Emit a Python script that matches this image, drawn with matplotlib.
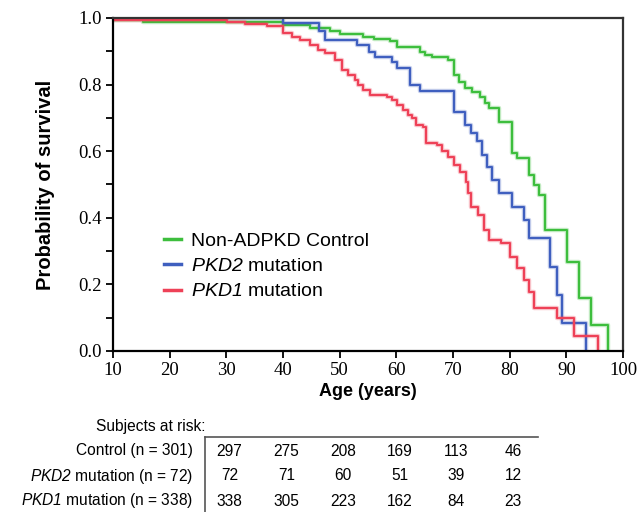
import matplotlib
matplotlib.use('Agg')
from matplotlib import pyplot as plt
from matplotlib.lines import Line2D

plt.rcParams['font.family'] = ['Liberation Sans', 'DejaVu Sans']
plt.rcParams['mathtext.fontset'] = 'custom'
plt.rcParams['mathtext.sf'] = 'Liberation Sans:italic'
plt.rcParams['mathtext.rm'] = 'Liberation Sans'

# Kaplan-Meier steps (age, survival)
control_age = [10, 15.4, 40.0, 44.8, 48.3, 50.1, 54.2, 56.0, 58.9, 60.1, 64.2, 65.1,
               66.3, 69.2, 70.1, 71.0, 72.2, 73.4, 74.8, 75.7, 76.3, 78.1, 80.4, 81.3,
               83.4, 84.3, 85.2, 86.3, 90.1, 92.2, 94.3, 97.3]
control_surv = [0.993, 0.989, 0.979, 0.969, 0.962, 0.952, 0.944, 0.936, 0.931, 0.912, 0.899, 0.889,
                0.884, 0.874, 0.829, 0.809, 0.789, 0.779, 0.764, 0.744, 0.729, 0.689, 0.593, 0.578,
                0.529, 0.498, 0.468, 0.363, 0.268, 0.158, 0.078, 0.0]

pkd2_age = [10, 40.1, 46.3, 47.5, 53.0, 55.1, 56.3, 59.2, 60.1, 62.5, 64.2, 70.1, 72.2,
            73.1, 74.3, 75.1, 76.0, 76.9, 78.1, 80.4, 82.5, 83.4, 87.2, 88.4, 89.3, 93.4]
pkd2_surv = [1.0, 0.984, 0.96, 0.934, 0.919, 0.899, 0.884, 0.869, 0.849, 0.799, 0.782, 0.719, 0.679,
             0.654, 0.629, 0.589, 0.553, 0.514, 0.474, 0.433, 0.393, 0.338, 0.253, 0.168, 0.083, 0.0]

pkd1_age = [10, 30.1, 33.3, 37.2, 40.0, 41.6, 43.0, 44.8, 46.2, 47.5, 49.2, 50.4, 51.5, 52.7,
            53.3, 54.2, 55.4, 58.4, 59.2, 60.1, 61.2, 62.1, 62.8, 63.4, 64.8, 65.3, 67.2, 68.1,
            69.2, 70.1, 71.3, 72.3, 72.6, 73.1, 74.5, 75.4, 76.3, 78.4, 80.1, 81.3, 82.5, 83.4,
            84.3, 88.4, 91.3, 95.5]
pkd1_surv = [0.994, 0.987, 0.982, 0.976, 0.954, 0.944, 0.934, 0.919, 0.904, 0.894, 0.874, 0.844, 0.829, 0.814,
             0.799, 0.784, 0.769, 0.762, 0.754, 0.739, 0.724, 0.709, 0.70, 0.679, 0.672, 0.623, 0.617, 0.60,
             0.583, 0.559, 0.538, 0.508, 0.474, 0.433, 0.408, 0.363, 0.333, 0.323, 0.283, 0.248, 0.213, 0.178,
             0.129, 0.098, 0.045, 0.0]

# subjects at risk table
risk_ages = [30, 40, 50, 60, 70, 80]
risk_control = [297, 275, 208, 169, 113, 46]
risk_pkd2 = [72, 71, 60, 51, 39, 12]
risk_pkd1 = [338, 305, 223, 162, 84, 23]

c_green = '#3dbe3d'
c_blue = '#3f5fbf'
c_red = '#ee4157'

fig = plt.figure(figsize=(6.41, 5.12), dpi=100)
ax = fig.add_axes([0.176, 0.3145, 0.796, 0.6505])

for a, s, c in [(control_age, control_surv, c_green),
                (pkd2_age, pkd2_surv, c_blue),
                (pkd1_age, pkd1_surv, c_red)]:
    ax.step(a, s, where='post', color=c, lw=3.2, alpha=0.3)
    ax.step(a, s, where='post', color=c, lw=1.5)

ax.set_xlim(10, 100)
ax.set_ylim(0, 1.0)
ax.set_xticks(range(10, 101, 10))
ax.set_yticks([0, 0.2, 0.4, 0.6, 0.8, 1.0])
ax.set_yticks([0.1, 0.3, 0.5, 0.7, 0.9], minor=True)
ax.set_yticklabels(['0.0', '0.2', '0.4', '0.6', '0.8', '1.0'])
for lab in ax.get_xticklabels() + ax.get_yticklabels():
    lab.set_fontfamily('Liberation Serif')
    lab.set_fontsize(13.5)
ax.tick_params(axis='both', which='both', direction='out', length=5, width=1.3, pad=3)
for sp in ax.spines.values():
    sp.set_linewidth(1.6)
ax.spines['right'].set_color('#333333')
ax.spines['top'].set_color('#333333')

ax.set_xlabel('Age (years)', fontsize=13, fontweight='bold', labelpad=3)
ax.set_ylabel('Probability of survival', fontsize=14.5, fontweight='bold', labelpad=17)

handles = [Line2D([], [], color=c_green, lw=2.5),
           Line2D([], [], color=c_blue, lw=2.5),
           Line2D([], [], color=c_red, lw=2.5)]
labels = ['Non-ADPKD Control', r'$\mathsf{PKD2}$ mutation', r'$\mathsf{PKD1}$ mutation']
ax.legend(handles, labels, loc='upper left', bbox_to_anchor=(0.1, 0.357), frameon=False,
          fontsize=14, handlelength=0.9, handletextpad=0.5, labelspacing=0.4,
          borderpad=0, borderaxespad=0)

# risk table
trans = matplotlib.transforms.blended_transform_factory(ax.transData, fig.transFigure)
fs = 11.2
row_y = [1 - 451 / 512, 1 - 476 / 512, 1 - 501 / 512]
fig.text(205 / 641, 1 - 426 / 512, 'Subjects at risk:', ha='right', va='center', fontsize=fs)
row_labels = ['Control (n = 301)', r'$\mathsf{PKD2}$ mutation (n = 72)', r'$\mathsf{PKD1}$ mutation (n = 338)']
for lab, y in zip(row_labels, row_y):
    fig.text(193 / 641, y, lab, ha='right', va='center', fontsize=fs)
for vals, y in zip([risk_control, risk_pkd2, risk_pkd1], row_y):
    for a, v in zip(risk_ages, vals):
        ax.text(a + 0.6, y, str(v), transform=trans, ha='center', va='center', fontsize=fs)

fig.add_artist(Line2D([205 / 641, 538 / 641], [1 - 437 / 512, 1 - 437 / 512],
                      color='#555555', lw=1.2, transform=fig.transFigure))
fig.add_artist(Line2D([205 / 641, 205 / 641], [1 - 437 / 512, 0],
                      color='#555555', lw=1.2, transform=fig.transFigure))

fig.savefig('out.png', dpi=100)
